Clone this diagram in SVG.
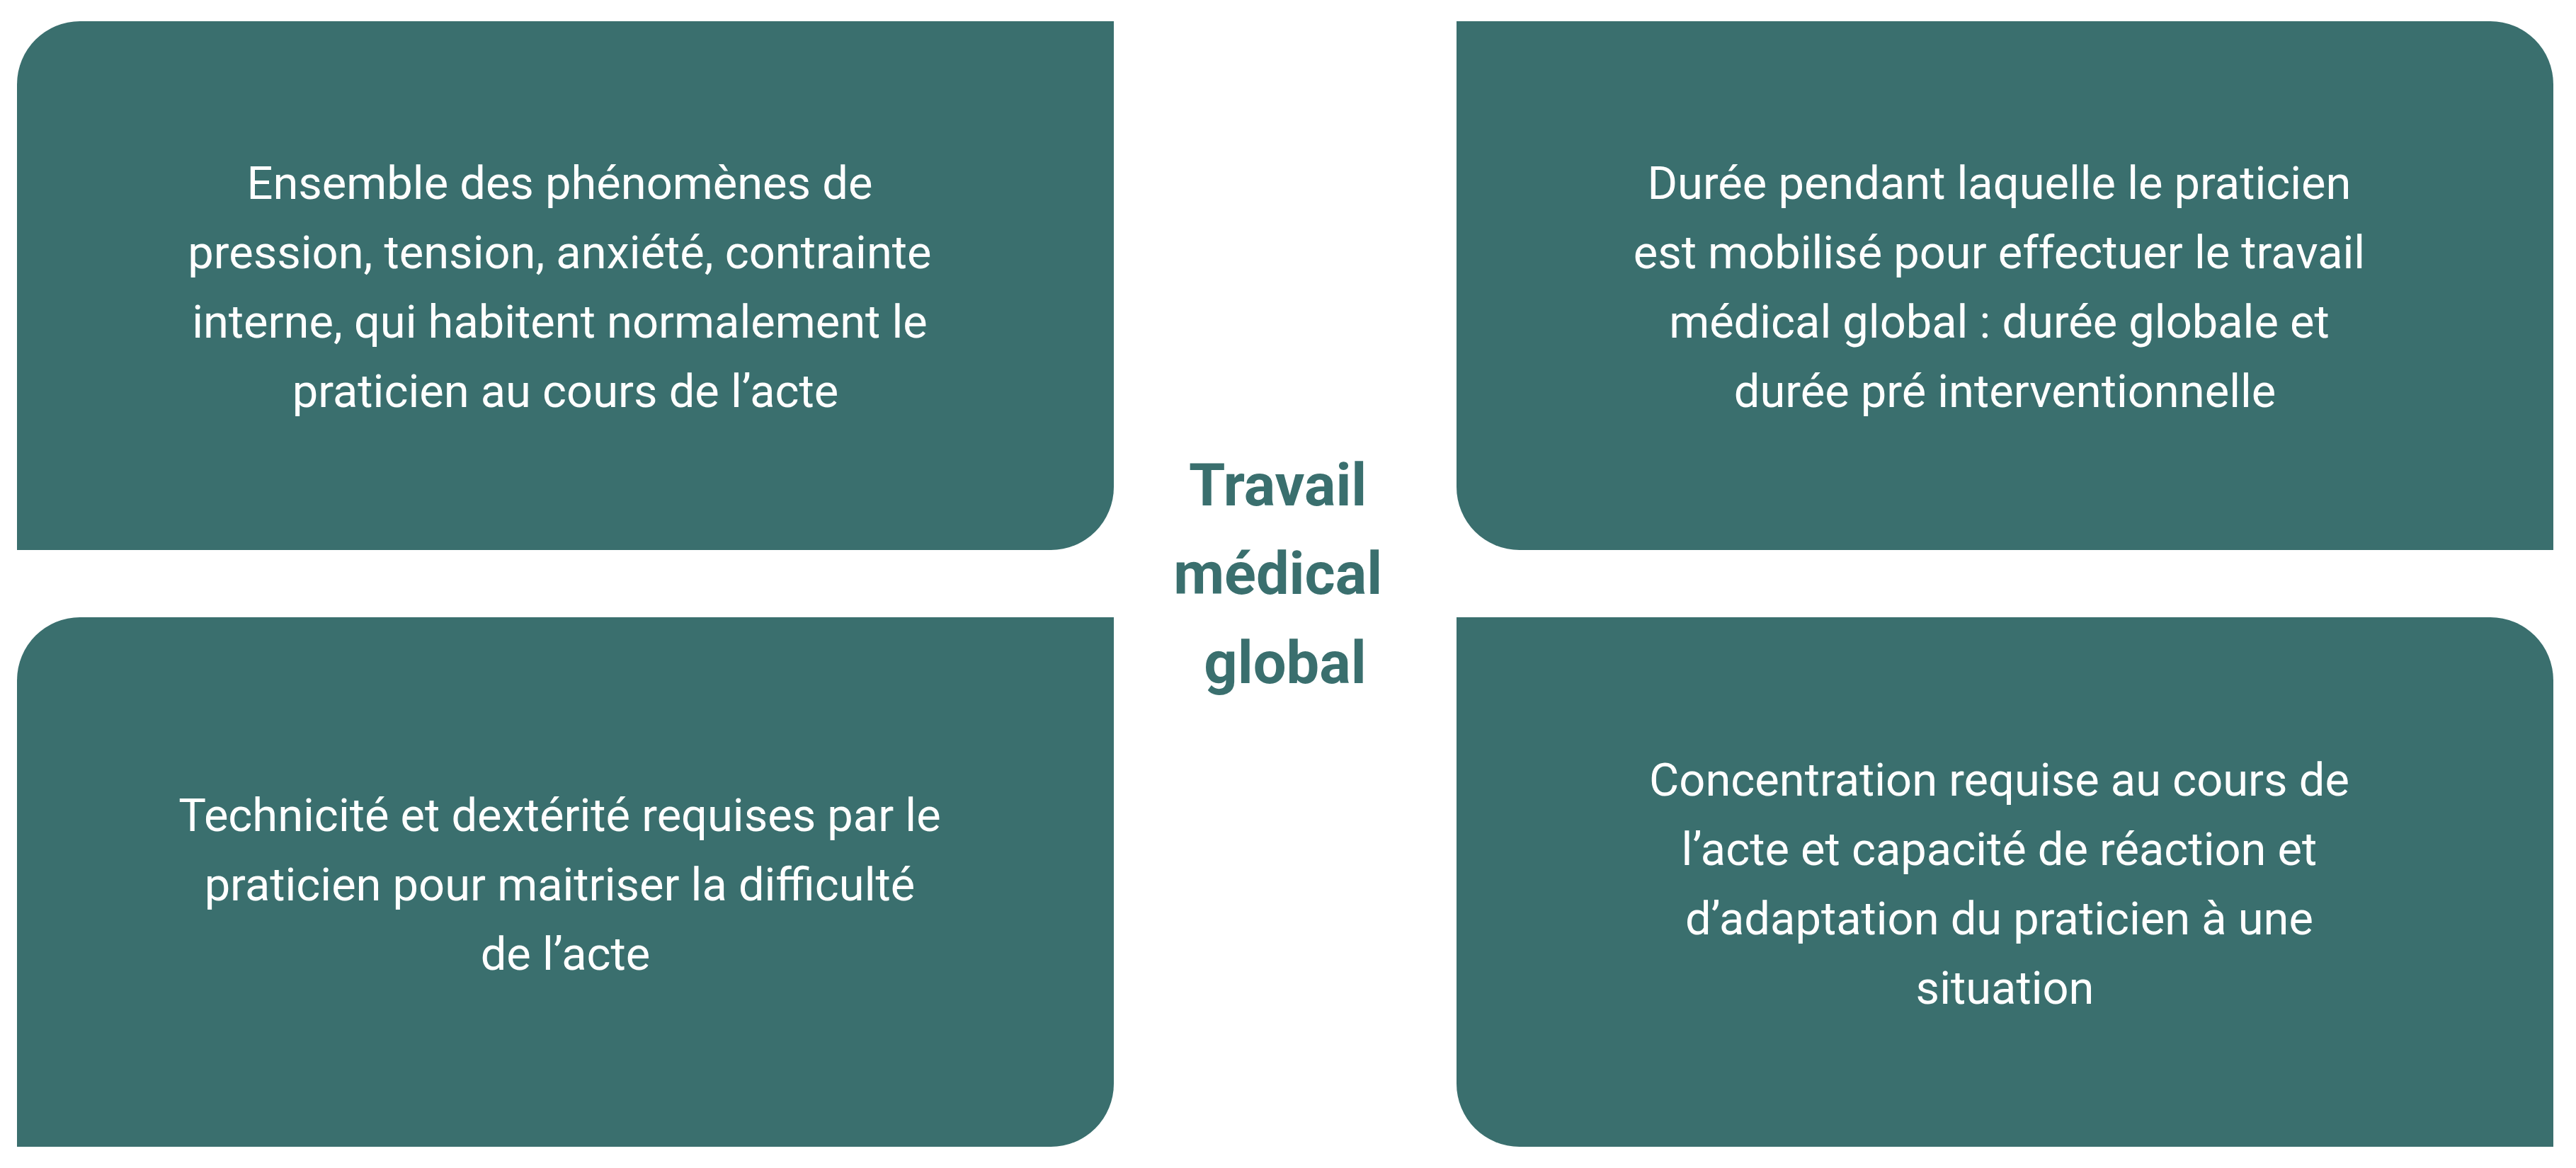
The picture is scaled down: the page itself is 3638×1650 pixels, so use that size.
<svg xmlns="http://www.w3.org/2000/svg" width="3638" height="1650" viewBox="0 0 3638 1650">
  <style>
    .box { fill: #3A6F6E; }
    .body { font-family: Roboto, "Liberation Sans", sans-serif; font-size: 65px; fill: #FFFFFF; text-anchor: middle; }
    .title { font-family: Roboto, "Liberation Sans", sans-serif; font-size: 83px; font-weight: bold; fill: #3A6F6E; text-anchor: middle; }
  </style>
  <rect width="3638" height="1650" fill="#FFFFFF"/>
  <g id="node-stress">
    <path class="box" d="M 113 30 H 1573 V 688 A 89 89 0 0 1 1484 777 H 24 V 119 A 89 89 0 0 1 113 30 Z"/>
    <text class="body">
      <tspan x="798.5" y="281">Ensemble des phénomènes de</tspan>
      <tspan x="798.5" y="379">pression, tension, anxiété, contrainte</tspan>
      <tspan x="798.5" y="477">interne, qui habitent normalement le</tspan>
      <tspan x="798.5" y="575">praticien au cours de l’acte</tspan>
    </text>
  </g>
  <g id="node-duree">
    <path class="box" d="M 2057 30 H 3517 A 89 89 0 0 1 3606 119 V 777 H 2146 A 89 89 0 0 1 2057 688 Z"/>
    <text class="body">
      <tspan x="2831.5" y="281">Durée pendant laquelle le praticien</tspan>
      <tspan x="2831.5" y="379">est mobilisé pour effectuer le travail</tspan>
      <tspan x="2831.5" y="477">médical global : durée globale et</tspan>
      <tspan x="2831.5" y="575">durée pré interventionnelle</tspan>
    </text>
  </g>
  <g id="node-technicite">
    <path class="box" d="M 113 872 H 1573 V 1531 A 89 89 0 0 1 1484 1620 H 24 V 961 A 89 89 0 0 1 113 872 Z"/>
    <text class="body">
      <tspan x="798.5" y="1174">Technicité et dextérité requises par le</tspan>
      <tspan x="798.5" y="1272">praticien pour maitriser la difficulté</tspan>
      <tspan x="798.5" y="1370">de l’acte</tspan>
    </text>
  </g>
  <g id="node-concentration">
    <path class="box" d="M 2057 872 H 3517 A 89 89 0 0 1 3606 961 V 1620 H 2146 A 89 89 0 0 1 2057 1531 Z"/>
    <text class="body">
      <tspan x="2831.5" y="1124">Concentration requise au cours de</tspan>
      <tspan x="2831.5" y="1222">l’acte et capacité de réaction et</tspan>
      <tspan x="2831.5" y="1320">d’adaptation du praticien à une</tspan>
      <tspan x="2831.5" y="1418">situation</tspan>
    </text>
  </g>
  <g id="node-center">
    <text class="title">
      <tspan x="1815" y="714">Travail</tspan>
      <tspan x="1815" y="839">médical</tspan>
      <tspan x="1815" y="965">global</tspan>
    </text>
  </g>
  <g id="connectors"></g>
</svg>
